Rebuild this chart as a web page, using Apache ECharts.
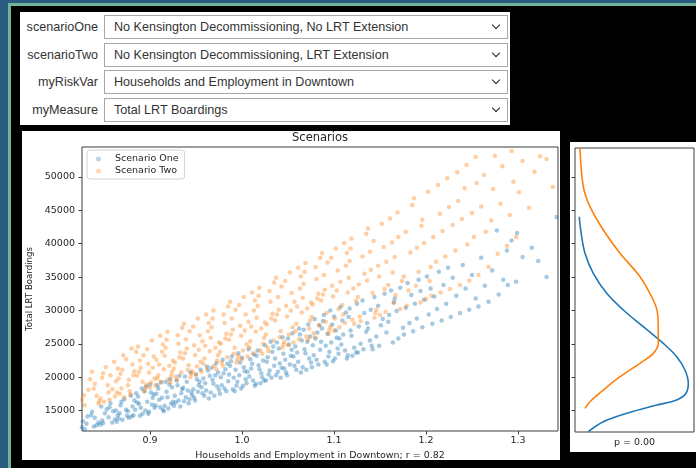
<!DOCTYPE html>
<html lang="en">
<head>
<meta charset="UTF-8">
<title>Scenarios</title>
<script src="https://cdn.jsdelivr.net/npm/echarts@6/dist/echarts.min.js"></script>
<style>
  html, body { margin: 0; padding: 0; }
  body { width: 696px; height: 468px; background: #000; position: relative; overflow: hidden;
         font-family: "Liberation Sans", Arial, sans-serif; }
  .bar { position: absolute; }
  #controls { position: absolute; left: 20px; top: 12px; width: 490px; height: 113px; background: #fff; }
  .row { position: absolute; left: 0; width: 490px; height: 24px; }
  .row .lbl { position: absolute; left: 0; width: 78px; top: 0; line-height: 24px; text-align: right;
              font-size: 12.6px; color: #333; }
  .row .box { position: absolute; left: 84px; width: 402px; top: 0; height: 22px; border: 1px solid #a8a8a8;
              font-size: 12.6px; line-height: 22px; color: #333; }
  .row .box span.txt { position: absolute; left: 9px; top: 0; }
  .row .box span.chev { position: absolute; right: 8px; top: 6px; width: 5px; height: 5px;
              border-right: 1.6px solid #222; border-bottom: 1.6px solid #222; transform: rotate(45deg); }
  .panel { position: absolute; background: #fff; }
  #chart { position: absolute; left: 0; top: 0; width: 696px; height: 468px; }
</style>
</head>
<body>
<div class="bar" style="left:0;top:0;width:8px;height:468px;background:#2c5b80"></div>
<div class="bar" style="left:0;top:0;width:696px;height:3px;background:#2c5b80"></div>
<div class="bar" style="left:8px;top:3px;width:3px;height:465px;background:#72b39c"></div>
<div class="bar" style="left:8px;top:3px;width:688px;height:3px;background:#72b39c"></div>

<div id="controls">
  <div class="row" style="top:3px"><span class="lbl">scenarioOne</span><div class="box"><span class="txt">No Kensington Decommissioning, No LRT Extension</span><span class="chev"></span></div></div>
  <div class="row" style="top:31px"><span class="lbl">scenarioTwo</span><div class="box"><span class="txt">No Kensington Decommissioning, LRT Extension</span><span class="chev"></span></div></div>
  <div class="row" style="top:58px"><span class="lbl">myRiskVar</span><div class="box"><span class="txt">Households and Employment in Downtown</span><span class="chev"></span></div></div>
  <div class="row" style="top:86px"><span class="lbl">myMeasure</span><div class="box"><span class="txt">Total LRT Boardings</span><span class="chev"></span></div></div>
</div>

<div class="panel" style="left:22px;top:131px;width:538px;height:329px"></div>
<div class="panel" style="left:570px;top:142px;width:126px;height:310px"></div>
<div id="chart"></div>

<script>
  // tick values
  const xTicks = [0.9, 1.0, 1.1, 1.2, 1.3];
  const yTicks = [15000, 20000, 25000, 30000, 35000, 40000, 45000, 50000];

  // Scenario One (blue): [households & employment, total LRT boardings], estimated from the cloud
  const scenarioOnePoints = [
    [0.826,12500],[0.827,13400],[0.829,12200],[0.831,13000],[0.832,14100],
    [0.842,12800],[0.836,14300],[0.844,13200],[0.839,12600],[0.840,13900],[0.837,14800],
    [0.849,13100],[0.853,15200],[0.846,12900],[0.855,14000],[0.848,13500],[0.851,14600],[0.847,15600],
    [0.864,13300],[0.860,14900],[0.862,13700],[0.857,16100],[0.865,14300],[0.859,13200],[0.856,15500],[0.863,15000],
    [0.870,13600],[0.868,15800],[0.875,14200],[0.872,16700],[0.866,13800],[0.874,15100],[0.869,16300],[0.867,14600],
    [0.876,14900],[0.877,13900],[0.879,17200],[0.881,15600],[0.882,14300],[0.883,16500],[0.885,17600],[0.884,15100],[0.880,14100],
    [0.892,14500],[0.886,16200],[0.894,17900],[0.889,14200],[0.890,15400],[0.887,17100],[0.891,18300],[0.888,16000],[0.895,15000],
    [0.899,14800],[0.903,16900],[0.896,18600],[0.905,15400],[0.898,14500],[0.901,17700],[0.897,16300],[0.900,18900],[0.902,15900],[0.904,17400],
    [0.914,15100],[0.910,16600],[0.912,19200],[0.907,17500],[0.915,14900],[0.909,18300],[0.906,15800],[0.913,16900],[0.908,18800],[0.911,15500],
    [0.920,15300],[0.918,17800],[0.925,16300],[0.922,19700],[0.916,15700],[0.924,18500],[0.919,17000],[0.917,19300],[0.923,16000],[0.921,18900],
    [0.926,15700],[0.927,17200],[0.929,19500],[0.931,16500],[0.932,20200],[0.933,15600],[0.935,18200],[0.934,17600],[0.930,18800],[0.928,16200],
    [0.942,16100],[0.936,18400],[0.944,20700],[0.939,17000],[0.940,19300],[0.937,16400],[0.941,18000],[0.938,20100],[0.945,17700],[0.943,16700],
    [0.949,16500],[0.953,18800],[0.946,17300],[0.955,21100],[0.948,16900],[0.951,19700],[0.947,18200],[0.950,20400],[0.952,17800],[0.954,19300],
    [0.964,16800],[0.960,19100],[0.962,21600],[0.957,17600],[0.965,20200],[0.959,17200],[0.956,18500],[0.963,21000],[0.958,19800],[0.961,18000],
    [0.970,17200],[0.968,19600],[0.975,18100],[0.972,22100],[0.966,17700],[0.974,20700],[0.969,19000],[0.967,21400],[0.973,18600],[0.971,20300],
    [0.976,17500],[0.977,20000],[0.979,22600],[0.981,18300],[0.982,21200],[0.983,17900],[0.985,19400],[0.984,22000],[0.980,20600],[0.978,18800],
    [0.992,17900],[0.986,20400],[0.994,18700],[0.989,23100],[0.990,18200],[0.987,21700],[0.991,19900],[0.988,22400],[0.995,19300],[0.993,21100],
    [0.999,18300],[1.003,20900],[0.996,23600],[1.005,19100],[0.998,22200],[1.001,18700],[0.997,20300],[1.000,22900],[1.002,21500],[1.004,19700],
    [1.014,18700],[1.010,21300],[1.012,19500],[1.007,24200],[1.015,19000],[1.009,22700],[1.006,20800],[1.013,23400],[1.008,20100],[1.011,22000],
    [1.020,19100],[1.018,21800],[1.025,24800],[1.022,20000],[1.016,23200],[1.024,19500],[1.019,21200],[1.017,24000],[1.023,22500],[1.021,20600],
    [1.026,19500],[1.027,22300],[1.029,20400],[1.031,25300],[1.032,19900],[1.033,23800],[1.035,21700],[1.034,24600],[1.030,21000],[1.028,23000],
    [1.042,19900],[1.036,22800],[1.044,26000],[1.039,20800],[1.040,24300],[1.037,20300],[1.041,22100],[1.038,25200],[1.045,23500],[1.043,21400],
    [1.049,20300],[1.053,23200],[1.046,21300],[1.055,26600],[1.048,20700],[1.051,24900],[1.047,22600],[1.050,25800],[1.052,21900],[1.054,24100],
    [1.064,20700],[1.060,23700],[1.062,27300],[1.057,21700],[1.065,25500],[1.059,21100],[1.056,23100],[1.063,26400],[1.058,24600],[1.061,22300],
    [1.070,21100],[1.068,24200],[1.075,22200],[1.072,27900],[1.066,21500],[1.074,26100],[1.069,23600],[1.067,27100],[1.073,22800],[1.071,25300],
    [1.076,21500],[1.077,24800],[1.079,28700],[1.081,22600],[1.082,26700],[1.083,21900],[1.085,24100],[1.084,27800],[1.080,25800],[1.078,23300],
    [1.092,21900],[1.086,25300],[1.094,23100],[1.089,29300],[1.090,22300],[1.087,27300],[1.091,24700],[1.088,28400],[1.095,23800],[1.093,26500],
    [1.099,22400],[1.103,25900],[1.096,30000],[1.105,23500],[1.098,27900],[1.101,22800],[1.097,25200],[1.100,29100],[1.102,27000],[1.104,24300],
    [1.114,22800],[1.110,26400],[1.112,24000],[1.107,30500],[1.115,23300],[1.109,28500],[1.106,25800],[1.113,29700],[1.108,24900],
    [1.120,23200],[1.118,27000],[1.125,31000],[1.122,24400],[1.116,29000],[1.124,23700],[1.119,26200],[1.117,30300],
    [1.126,23700],[1.127,27600],[1.129,25000],[1.131,31500],[1.132,24200],[1.133,29600],[1.135,26800],
    [1.142,24200],[1.136,28100],[1.144,32000],[1.139,25500],[1.140,30100],[1.137,27300],[1.141,24700],
    [1.149,24700],[1.153,28700],[1.146,26100],[1.155,32500],[1.148,30700],[1.151,27800],
    [1.164,25200],[1.160,29300],[1.162,33000],[1.157,26700],[1.165,31200],[1.159,28300],
    [1.170,25800],[1.168,29900],[1.175,27400],[1.172,33400],[1.166,31800],
    [1.176,26400],[1.178,30400],[1.180,34100],[1.182,28100],[1.184,32300],
    [1.186,26900],[1.188,31000],[1.190,28800],[1.192,34600],[1.194,32900],
    [1.196,27500],[1.198,31600],[1.201,35100],[1.203,29400],[1.205,33300],
    [1.207,28000],[1.209,32100],[1.212,30200],[1.214,35800],
    [1.217,28500],[1.219,33800],[1.222,31000],[1.224,36400],
    [1.227,29000],[1.229,34900],[1.233,32200],
    [1.237,29600],[1.240,36800],[1.243,33300],
    [1.247,30100],[1.250,35300],[1.254,31800],
    [1.257,30600],[1.260,37900],[1.264,33700],
    [1.268,31300],[1.272,36000],[1.277,42000],
    [1.279,32400],[1.284,34600],[1.288,39000],
    [1.289,33800],[1.293,40500],
    [1.298,34300],[1.299,41600],[1.305,38000],
    [1.315,39400],[1.322,37400],[1.331,35000],[1.342,44000]
  ];

  // Scenario Two (orange)
  const scenarioTwoPoints = [
    [0.829,15800],[0.833,18100],[0.826,16600],[0.835,19700],[0.828,17300],
    [0.844,16000],[0.840,19000],[0.842,17200],[0.837,20800],[0.845,16400],[0.839,18300],
    [0.850,16300],[0.848,19900],[0.855,17700],[0.852,21500],[0.846,16800],[0.854,18800],[0.849,20600],
    [0.856,16600],[0.857,20300],[0.859,18200],[0.861,22300],[0.862,17100],[0.863,19400],[0.865,21300],[0.864,17700],
    [0.872,17000],[0.866,19800],[0.874,22700],[0.869,18300],[0.870,21100],[0.867,17500],[0.871,23300],[0.868,20500],
    [0.879,17400],[0.883,20900],[0.876,18800],[0.885,23800],[0.878,17900],[0.881,21900],[0.877,19600],[0.880,24300],[0.882,20300],
    [0.894,17900],[0.890,21400],[0.892,19300],[0.887,24600],[0.895,18400],[0.889,22500],[0.886,20200],[0.893,23300],[0.888,20800],
    [0.900,18400],[0.898,22000],[0.905,19800],[0.902,25500],[0.896,18900],[0.904,23100],[0.899,20700],[0.897,24200],[0.903,21400],[0.901,19200],
    [0.906,18800],[0.907,22600],[0.909,20300],[0.911,26200],[0.912,19300],[0.913,23800],[0.915,21200],[0.914,24900],[0.910,21900],[0.908,19800],
    [0.922,19200],[0.916,23200],[0.924,20800],[0.919,26800],[0.920,19700],[0.917,24400],[0.921,21700],[0.918,25600],[0.925,22500],[0.923,20200],
    [0.929,19600],[0.933,23700],[0.926,21300],[0.935,27400],[0.928,20100],[0.931,25000],[0.927,22200],[0.930,26300],[0.932,23000],[0.934,20700],
    [0.944,20000],[0.940,24300],[0.942,21800],[0.937,28000],[0.945,20500],[0.939,25700],[0.936,22800],[0.943,26900],[0.938,23600],[0.941,21100],
    [0.950,20400],[0.948,24800],[0.955,22300],[0.952,28800],[0.946,20900],[0.954,26300],[0.949,23300],[0.947,27600],[0.953,24100],[0.951,21600],
    [0.956,20800],[0.957,25400],[0.959,22800],[0.961,29400],[0.962,21300],[0.963,26900],[0.965,23900],[0.964,28100],[0.960,24700],[0.958,22000],
    [0.972,21200],[0.966,25900],[0.974,23300],[0.969,30000],[0.970,21700],[0.967,27500],[0.971,24400],[0.968,28800],[0.975,25200],[0.973,22500],
    [0.979,21700],[0.983,26500],[0.976,23800],[0.985,30600],[0.978,22200],[0.981,28100],[0.977,25000],[0.980,29400],[0.982,25800],[0.984,23000],
    [0.994,22200],[0.990,27100],[0.992,24400],[0.987,31300],[0.995,22700],[0.989,28800],[0.986,25600],[0.993,30100],[0.988,26400],[0.991,23500],
    [1.000,22700],[0.998,27700],[1.005,24900],[1.002,32000],[0.996,23200],[1.004,29400],[0.999,26200],[0.997,30800],[1.003,27000],[1.001,24000],
    [1.006,23100],[1.007,28300],[1.009,25400],[1.011,32700],[1.012,23600],[1.013,30000],[1.015,26800],[1.014,31500],[1.010,27600],[1.008,24500],
    [1.022,23500],[1.016,28900],[1.024,25900],[1.019,33400],[1.020,24000],[1.017,30700],[1.021,27300],[1.018,32200],[1.025,28200],[1.023,25000],
    [1.029,23900],[1.033,29500],[1.026,26400],[1.035,34200],[1.028,24400],[1.031,31300],[1.027,27900],[1.030,32900],[1.032,28800],[1.034,25500],
    [1.044,24400],[1.040,30100],[1.042,26900],[1.037,34900],[1.045,24900],[1.039,32000],[1.036,28500],[1.043,33600],[1.038,29400],[1.041,26000],
    [1.050,24800],[1.048,30700],[1.055,27500],[1.052,35700],[1.046,25300],[1.054,32600],[1.049,29100],[1.047,34400],[1.053,30000],[1.051,26400],
    [1.056,25200],[1.057,31300],[1.059,28000],[1.061,36400],[1.062,25700],[1.063,33300],[1.065,29700],[1.064,35100],[1.060,30600],[1.058,26900],
    [1.072,25600],[1.066,31900],[1.074,28500],[1.069,37100],[1.070,26100],[1.067,34000],[1.071,30300],[1.068,35800],[1.075,31200],[1.073,27300],
    [1.079,26000],[1.083,32500],[1.076,29000],[1.085,37900],[1.078,26600],[1.081,34700],[1.077,30900],[1.080,36500],[1.082,31800],[1.084,27800],
    [1.094,26500],[1.090,33100],[1.092,29600],[1.087,38600],[1.095,27100],[1.089,35300],[1.086,31500],[1.093,37200],[1.088,32400],[1.091,28300],
    [1.100,27000],[1.098,33700],[1.105,30200],[1.102,39300],[1.096,27600],[1.104,36000],[1.099,32100],[1.097,37900],[1.103,33000],[1.101,28800],
    [1.106,27500],[1.107,34300],[1.109,30800],[1.111,40100],[1.112,28100],[1.113,36700],[1.115,32700],[1.114,38600],[1.110,29400],
    [1.122,28000],[1.116,34900],[1.124,31400],[1.119,40800],[1.120,28600],[1.117,37400],[1.121,33300],[1.118,39300],
    [1.129,28400],[1.133,35500],[1.126,32000],[1.135,41500],[1.128,29100],[1.131,38100],[1.127,33900],
    [1.144,28900],[1.140,36100],[1.142,32600],[1.137,42300],[1.145,29600],[1.139,38800],[1.136,34500],[1.143,40400],
    [1.150,29300],[1.148,36700],[1.155,33200],[1.152,43000],[1.146,30100],[1.154,39500],[1.149,35100],
    [1.156,29800],[1.157,37300],[1.159,33800],[1.161,43800],[1.163,40200],[1.165,31200],[1.164,35700],
    [1.172,30200],[1.166,38000],[1.174,34400],[1.169,44700],[1.170,41000],[1.167,32300],
    [1.179,30700],[1.183,38700],[1.176,35100],[1.185,45800],[1.178,41800],[1.181,33000],
    [1.194,31200],[1.190,39400],[1.192,35800],[1.187,46800],[1.195,42700],[1.189,33700],
    [1.200,31700],[1.198,40100],[1.205,36500],[1.202,47800],[1.196,43600],[1.204,34400],
    [1.206,32200],[1.208,41000],[1.211,37300],[1.213,48800],[1.215,44500],
    [1.216,32700],[1.218,41900],[1.221,38100],[1.223,49800],[1.225,45500],
    [1.226,33200],[1.229,42800],[1.232,39000],[1.234,50700],[1.235,46400],
    [1.237,33800],[1.239,43700],[1.242,48300],[1.244,51800],[1.245,39900],
    [1.247,34500],[1.250,44600],[1.252,41000],[1.254,53000],[1.255,49100],
    [1.257,35300],[1.260,45600],[1.263,50300],[1.265,41800],
    [1.268,36500],[1.271,43500],[1.273,48200],[1.275,53200],
    [1.278,38500],[1.281,46000],[1.283,51600],
    [1.288,39700],[1.291,44300],[1.293,53900],[1.295,49300],
    [1.298,41000],[1.301,47700],[1.305,52400],
    [1.312,45400],[1.318,50800],[1.324,53100],[1.331,52700],[1.338,48500]
  ];

  // side panel: kernel density of boardings (density in panel units, boardings)
  const kdeOneBoardings = [44050, 42060, 38560, 35570, 32570, 30070, 27570, 25070, 23070, 21070, 19080, 17580, 16570, 15820, 14580, 13320, 11820];
  const kdeOneDensity   = [4.3, 5.7, 10, 18.3, 31.7, 48.3, 68.3, 88.3, 101.7, 110, 113.3, 111, 101.7, 81.7, 51.7, 28.3, 13.3];
  const kdeTwoBoardings = [54300, 48550, 45550, 42060, 38560, 35060, 31560, 29810, 27070, 25070, 23570, 22080, 20070, 18070, 16320, 15330];
  const kdeTwoDensity   = [5, 8.3, 15, 28.3, 45, 65, 78.3, 82.3, 83.3, 83.3, 78.3, 65, 45, 28.3, 15, 10];

  const blue = '#1f77b4';
  const orange = '#ff7f0e';
  const ink = '#262626';
  const font = 'DejaVu Sans';

  const chart = echarts.init(document.getElementById('chart'));

  const option = {
    animation: false,
    textStyle: { fontFamily: font },
    graphic: [{
      type: 'text', x: 320, y: 138,
      style: { text: 'Scenarios', align: 'center', verticalAlign: 'middle', fontFamily: font, fontSize: 11.5, fill: ink }
    }],
    legend: {
      left: 87, top: 150, orient: 'vertical',
      padding: [4, 6, 3, 9], itemGap: 2, itemWidth: 5, itemHeight: 5, icon: 'circle',
      borderColor: '#d0d0d0', borderWidth: 1, borderRadius: 3, backgroundColor: 'rgba(255,255,255,0.8)',
      textStyle: { fontFamily: font, fontSize: 9.5, color: ink, padding: [0, 0, 0, 9] },
      data: [
        { name: 'Scenario One', itemStyle: { opacity: 0.3 } },
        { name: 'Scenario Two', itemStyle: { opacity: 0.3 } }
      ]
    },
    grid: [
      { left: 82, top: 147, width: 476, height: 284, show: true, borderColor: '#3c3c3c', borderWidth: 1, backgroundColor: 'transparent' },
      { left: 575, top: 148, width: 119, height: 284, show: true, borderColor: '#3c3c3c', borderWidth: 1, backgroundColor: 'transparent' }
    ],
    xAxis: [
      {
        type: 'value', gridIndex: 0, min: 0.8261, max: 1.3435,
        name: 'Households and Employment in Downtown; r = 0.82',
        nameLocation: 'middle', nameGap: 16,
        nameTextStyle: { fontFamily: font, fontSize: 9.5, color: ink },
        axisLine: { show: false },
        axisTick: { show: true, length: 3.5, customValues: xTicks, lineStyle: { color: '#3c3c3c' } },
        axisLabel: { customValues: xTicks, margin: 5, fontFamily: font, fontSize: 9.5, color: ink,
                     formatter: v => v.toFixed(1) },
        splitLine: { show: false }
      },
      {
        type: 'value', gridIndex: 1, min: 0, max: 119,
        name: 'p = 0.00', nameLocation: 'middle', nameGap: 6,
        nameTextStyle: { fontFamily: font, fontSize: 9.5, color: ink },
        axisLine: { show: false }, axisTick: { show: false }, axisLabel: { show: false },
        splitLine: { show: false }
      }
    ],
    yAxis: [
      {
        type: 'value', gridIndex: 0, min: 11930, max: 54500,
        name: 'Total LRT Boardings', nameLocation: 'middle', nameGap: 38,
        nameTextStyle: { fontFamily: font, fontSize: 8.6, color: ink },
        axisLine: { show: false },
        axisTick: { show: true, length: 3.5, customValues: yTicks, lineStyle: { color: '#3c3c3c' } },
        axisLabel: { customValues: yTicks, margin: 7, fontFamily: font, fontSize: 9.5, color: ink,
                     formatter: v => String(v) },
        splitLine: { show: false }
      },
      {
        type: 'value', gridIndex: 1, min: 11780, max: 54350,
        axisLine: { show: false },
        axisTick: { show: true, length: 3.5, customValues: yTicks, lineStyle: { color: '#3c3c3c' } },
        axisLabel: { show: false },
        splitLine: { show: false }
      }
    ],
    series: [
      {
        name: 'Scenario One', type: 'scatter', xAxisIndex: 0, yAxisIndex: 0,
        data: scenarioOnePoints, symbolSize: 4.5,
        itemStyle: { color: blue, opacity: 0.4 }, emphasis: { disabled: true }
      },
      {
        name: 'Scenario Two', type: 'scatter', xAxisIndex: 0, yAxisIndex: 0,
        data: scenarioTwoPoints, symbolSize: 4.5,
        itemStyle: { color: orange, opacity: 0.38 }, emphasis: { disabled: true }
      },
      {
        name: 'KDE One', type: 'line', xAxisIndex: 1, yAxisIndex: 1,
        data: kdeOneDensity.map((d, i) => [d, kdeOneBoardings[i]]),
        showSymbol: false, smooth: 0.35,
        lineStyle: { color: blue, width: 1.6 }, itemStyle: { color: blue }
      },
      {
        name: 'KDE Two', type: 'line', xAxisIndex: 1, yAxisIndex: 1,
        data: kdeTwoDensity.map((d, i) => [d, kdeTwoBoardings[i]]),
        showSymbol: false, smooth: 0.35,
        lineStyle: { color: orange, width: 1.6 }, itemStyle: { color: orange }
      }
    ]
  };

  chart.setOption(option);
</script>
</body>
</html>
